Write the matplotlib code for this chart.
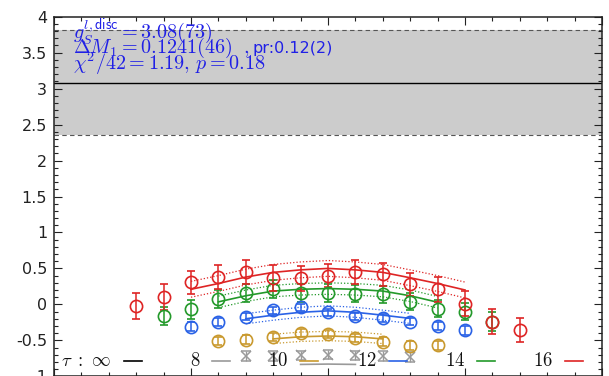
import matplotlib
matplotlib.use("Agg")
import matplotlib.pyplot as plt
from matplotlib.lines import Line2D
from matplotlib.ticker import MultipleLocator, NullFormatter, FuncFormatter
import numpy as np

plt.rcParams["mathtext.fontset"] = "cm"
plt.rcParams["axes.unicode_minus"] = False
plt.rcParams["font.family"] = ["DejaVu Sans"]

# ---- data -----------------------------------------------------------------
taus = [8, 10, 12, 14, 16]
tau_labels = ["8", "10", "12", "14", "16"]
colors = ["#9a9a9a", "#c9992e", "#2a62e6", "#23992a", "#de2424"]

# ratio data per source-sink separation tau, x = t - tau/2
y_tau8 = [-0.72, -0.72, -0.71, -0.70, -0.71, -0.72, -0.73]
e_tau8 = [0.065, 0.065, 0.065, 0.065, 0.065, 0.065, 0.065]
y_tau10 = [-0.51, -0.49, -0.455, -0.40, -0.41, -0.47, -0.52, -0.575, -0.57]
e_tau10 = [0.06, 0.06, 0.06, 0.06, 0.06, 0.06, 0.06, 0.06, 0.06]
y_tau12 = [-0.31, -0.25, -0.17, -0.08, -0.04, -0.11, -0.165, -0.19, -0.24, -0.30, -0.36]
e_tau12 = [0.06, 0.055, 0.05, 0.05, 0.05, 0.05, 0.05, 0.05, 0.05, 0.055, 0.06]
y_tau14 = [-0.16, -0.07, 0.08, 0.16, 0.22, 0.16, 0.16, 0.15, 0.14, 0.04, -0.06, -0.10, -0.24]
e_tau14 = [0.13, 0.13, 0.125, 0.12, 0.125, 0.12, 0.12, 0.12, 0.12, 0.12, 0.12, 0.12, 0.13]
y_tau16 = [-0.02, 0.10, 0.31, 0.38, 0.45, 0.37, 0.36, 0.40, 0.45, 0.42, 0.28, 0.21, 0.01, -0.24, -0.36]
e_tau16 = [0.18, 0.18, 0.16, 0.17, 0.17, 0.18, 0.18, 0.16, 0.17, 0.16, 0.16, 0.17, 0.17, 0.17, 0.17]

# fit curves over the fit window (t = 3 ... tau-3), central value and error
fit_tau8 = [-0.835, -0.83, -0.835]
fit_err_tau8 = None
fit_tau10 = [-0.48, -0.45, -0.44, -0.45, -0.48]
fit_err_tau10 = [0.065, 0.065, 0.065, 0.065, 0.065]
fit_tau12 = [-0.20, -0.15, -0.11, -0.09, -0.11, -0.15, -0.195]
fit_err_tau12 = [0.07, 0.07, 0.07, 0.07, 0.07, 0.07, 0.07]
fit_tau14 = [0.035, 0.12, 0.185, 0.21, 0.22, 0.21, 0.185, 0.12, 0.03]
fit_err_tau14 = [0.08, 0.08, 0.08, 0.08, 0.08, 0.08, 0.08, 0.08, 0.08]
fit_tau16 = [0.21, 0.29, 0.38, 0.445, 0.48, 0.50, 0.48, 0.445, 0.37, 0.29, 0.20]
fit_err_tau16 = [0.11, 0.11, 0.11, 0.11, 0.11, 0.11, 0.11, 0.11, 0.11, 0.11, 0.11]

# extrapolated result
gS = 3.08
gS_err = 0.73

points = [(y_tau8, e_tau8), (y_tau10, e_tau10), (y_tau12, e_tau12),
          (y_tau14, e_tau14), (y_tau16, e_tau16)]
fits = [(fit_tau8, fit_err_tau8), (fit_tau10, fit_err_tau10),
        (fit_tau12, fit_err_tau12), (fit_tau14, fit_err_tau14),
        (fit_tau16, fit_err_tau16)]

# ---- figure ---------------------------------------------------------------
W, H = 609, 376
fig = plt.figure(figsize=(W / 100, H / 100), dpi=100)


def fx(px):
    return px / W


def fy(py):
    return 1 - py / H


ax_left, ax_right, ax_top, ax_bot = 54, 602, 16.7, 376.3
ax = fig.add_axes([fx(ax_left), fy(ax_bot), fx(ax_right - ax_left),
                   (ax_bot - ax_top) / H])
ax.set_xlim(-10, 10)
ax.set_ylim(-1, 4)

# band of the extrapolated value
ax.axhspan(gS - gS_err, gS + gS_err, color="#cccccc", lw=0, zorder=0)
ax.axhline(gS, color="black", lw=1.0, zorder=1)
for yb in (gS - gS_err, gS + gS_err):
    ax.axhline(yb, color="#555555", lw=0.8, ls=(0, (4, 3)), zorder=1)

for tau, col, (yv, ev), (fv, fe) in zip(taus, colors, points, fits):
    n = len(yv)
    x = np.arange(n) - (n - 1) / 2
    if tau == 8:
        ax.errorbar(x, yv, yerr=ev, fmt="x", color=col, ms=7, mew=1.1,
                    elinewidth=1.0, capsize=3.5, capthick=1.1, zorder=3)
    else:
        ax.errorbar(x, yv, yerr=ev, fmt="o", color=col, mfc="none", ms=8.8,
                    mew=1.2, elinewidth=1.1, capsize=3.2, capthick=1.1,
                    zorder=3)
    m = len(fv)
    xf = np.arange(m) - (m - 1) / 2
    fv = np.asarray(fv)
    ax.plot(xf, fv, color=col, lw=1.2, zorder=2)
    if fe is not None:
        fe = np.asarray(fe)
        ax.plot(xf, fv + fe, color=col, lw=0.9, ls=(0, (1, 1.6)), zorder=2)
        ax.plot(xf, fv - fe, color=col, lw=0.9, ls=(0, (1, 1.6)), zorder=2)

# ticks
ax.yaxis.set_major_locator(MultipleLocator(0.5))
ax.yaxis.set_minor_locator(MultipleLocator(0.1))
ax.xaxis.set_major_locator(MultipleLocator(5))
ax.xaxis.set_minor_locator(MultipleLocator(1))
ax.yaxis.set_major_formatter(FuncFormatter(lambda v, p: "%g" % v))
ax.xaxis.set_major_formatter(NullFormatter())
ax.tick_params(which="both", direction="in", top=True, right=True,
               width=0.8, colors="#222222")
ax.tick_params(which="major", length=5.5)
ax.tick_params(which="minor", length=3)
ax.tick_params(axis="y", labelsize=11.5, pad=5, labelcolor="#222222")
for s in ax.spines.values():
    s.set_linewidth(1.1)
    s.set_color("#222222")

# fit summary
blue = "#2020e6"
fig.text(fx(73), fy(39), r"$g_S^{l,\mathsf{disc}} = 3.08(73)$", color=blue,
         fontsize=14.5, va="baseline", ha="left")
fig.text(fx(73), fy(53), r"$\Delta M_1 = 0.1241(46)\ \ ,$",
         color=blue, fontsize=14.5, va="baseline", ha="left")
fig.text(fx(253), fy(53), "pr:0.12(2)", color=blue, fontsize=11.5,
         va="baseline", ha="left")
fig.text(fx(73), fy(70), r"$\chi^2/42 = 1.19,\, p = 0.18$", color=blue,
         fontsize=14.5, va="baseline", ha="left")

# key along the bottom
key_labels = [r"$\tau\ :\ \infty$"] + ["$" + s + "$" for s in tau_labels]
key_colors = ["black"] + colors
key_right = [112, 200, 288, 377, 465, 553]
for lab, col, xr in zip(key_labels, key_colors, key_right):
    fig.text(fx(xr), fy(366), lab, fontsize=13.5, ha="right", va="baseline",
             color="#111111")
    fig.add_artist(Line2D([fx(xr + 12), fx(xr + 30)], [fy(361), fy(361)],
                          color=col, lw=1.2, transform=fig.transFigure))

fig.savefig("out.png", dpi=100)
